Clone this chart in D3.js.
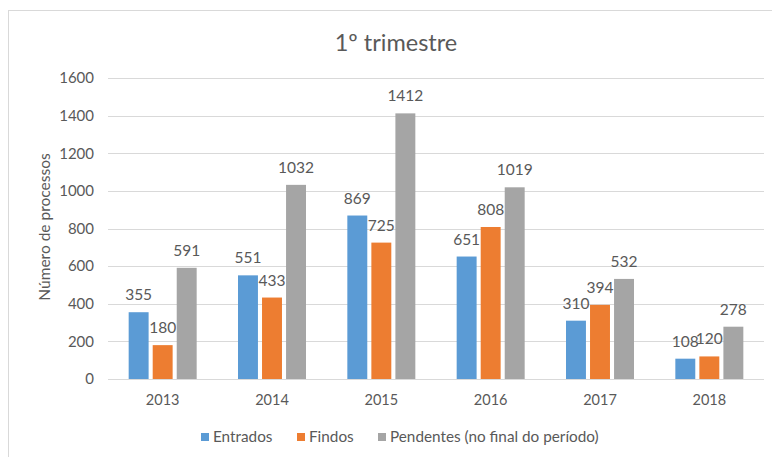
<!DOCTYPE html>
<html>
<head>
<meta charset="utf-8">
<script src="https://cdn.jsdelivr.net/npm/d3@7"></script>
<style>
  body { margin: 0; background: #fff; }
  text { font-family: Lato, "Noto Sans", sans-serif; fill: #595959; }
</style>
</head>
<body>
<div class="chart"></div>
<script>
// chart data
var years = ['2013', '2014', '2015', '2016', '2017', '2018'];
var seriesNames = ['Entrados', 'Findos', 'Pendentes (no final do período)'];
var entrados = [355, 551, 869, 651, 310, 108];
var findos = [180, 433, 725, 808, 394, 120];
var pendentes = [591, 1032, 1412, 1019, 532, 278];
var yTicks = [0, 200, 400, 600, 800, 1000, 1200, 1400, 1600];
var colors = ['#5B9BD5', '#ED7D31', '#A5A5A5'];

var svgWidth = 772;
var svgHeight = 457;
var margin = {top: 78, right: 8, bottom: 78, left: 108};
var width = 764 - margin.left;
var height = 379 - margin.top;

var svg = d3.select('.chart')
  .append('svg')
  .attr('width', svgWidth)
  .attr('height', svgHeight);

// outer border
svg.append('rect')
  .attr('x', 8.5).attr('y', 10.5)
  .attr('width', 800).attr('height', 500)
  .attr('fill', 'none')
  .attr('stroke', '#D9D9D9');

var chart = svg.append('g')
  .attr('transform', 'translate(' + margin.left + ',' + margin.top + ')');

var x0 = d3.scaleBand().domain(years).range([0, width]);
var x1 = d3.scaleBand().domain(d3.range(3)).range([-34, 34]).paddingInner(0.17);
var y = d3.scaleLinear().domain([0, 1600]).range([height, 0]);

// gridlines
chart.append('g')
  .selectAll('line')
  .data(yTicks)
  .enter().append('line')
  .attr('x1', 0).attr('x2', width)
  .attr('y1', function(d) { return Math.round(y(d)) + 0.5; })
  .attr('y2', function(d) { return Math.round(y(d)) + 0.5; })
  .attr('stroke', '#D9D9D9')
  .attr('stroke-width', 1);

// y axis
var leftAxis = d3.axisLeft(y).tickValues(yTicks).tickFormat(d3.format('d')).tickSize(0).tickPadding(14);
var yAxis = chart.append('g').call(leftAxis);
yAxis.select('.domain').remove();
yAxis.selectAll('text').style('font-size', '15px').attr('fill', '#595959');

// x axis
var bottomAxis = d3.axisBottom(x0).tickSize(0).tickPadding(16);
var xAxis = chart.append('g').attr('transform', 'translate(0,' + height + ')').call(bottomAxis);
xAxis.select('.domain').remove();
xAxis.selectAll('text').style('font-size', '14.5px').attr('fill', '#595959');

var series = [entrados, findos, pendentes];

series.forEach(function(vals, si) {
  var g = chart.append('g');
  g.selectAll('rect')
    .data(vals)
    .enter().append('rect')
    .attr('x', function(d, i) { return x0(years[i]) + x0.bandwidth() / 2 + x1(si); })
    .attr('y', function(d) { return y(d); })
    .attr('width', x1.bandwidth())
    .attr('height', function(d) { return height - y(d); })
    .attr('fill', colors[si]);

  g.selectAll('text')
    .data(vals)
    .enter().append('text')
    .attr('x', function(d, i) { return x0(years[i]) + x0.bandwidth() / 2 + x1(si) + x1.bandwidth() / 2; })
    .attr('y', function(d) { return y(d) - 12; })
    .attr('text-anchor', 'middle')
    .style('font-size', '15.5px')
    .text(function(d) { return d; });
});

// title
svg.append('text')
  .attr('x', 396).attr('y', 51)
  .attr('text-anchor', 'middle')
  .style('font-size', '23.5px')
  .text('1º trimestre');

// y axis title
svg.append('text')
  .attr('transform', 'translate(50,' + 227 + ') rotate(-90)')
  .attr('text-anchor', 'middle')
  .style('font-size', '15.5px')
  .text('Número de processos');

// legend
var legendX = [213, 309, 390];
var legend = svg.append('g');
seriesNames.forEach(function(name, i) {
  legend.append('rect')
    .attr('x', legendX[i] - 12).attr('y', 433)
    .attr('width', 8).attr('height', 8)
    .attr('fill', colors[i]);
  legend.append('text')
    .attr('x', legendX[i]).attr('y', 442)
    .style('font-size', '15.3px')
    .text(name);
});
</script>
</body>
</html>
